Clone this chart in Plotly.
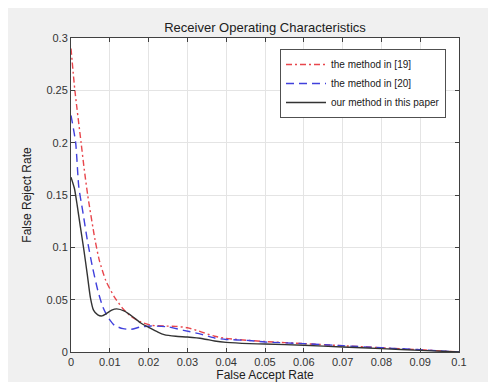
import plotly.graph_objects as go

# ---- data ----
x_m19 = [0.0, 0.001, 0.0026, 0.0034, 0.0043, 0.0062, 0.0073, 0.009, 0.0112, 0.0134, 0.0155,
         0.018, 0.0207, 0.024, 0.027, 0.030, 0.033, 0.037, 0.040, 0.046, 0.050, 0.060,
         0.070, 0.080, 0.090, 0.100]
y_m19 = [0.290, 0.250, 0.200, 0.175, 0.150, 0.107, 0.0876, 0.068, 0.0525, 0.0414, 0.034,
         0.0287, 0.0255, 0.0248, 0.0245, 0.0232, 0.020, 0.015, 0.013, 0.011, 0.0100, 0.008,
         0.006, 0.004, 0.0022, 0.0]

x_m20 = [0.0, 0.0012, 0.002, 0.003, 0.0043, 0.0056, 0.0069, 0.0082, 0.0095, 0.0112, 0.0134,
         0.0155, 0.018, 0.0207, 0.025, 0.029, 0.033, 0.037, 0.040, 0.046, 0.050, 0.060,
         0.070, 0.080, 0.090, 0.100]
y_m20 = [0.226, 0.200, 0.158, 0.135, 0.105, 0.080, 0.059, 0.0430, 0.0334, 0.0255, 0.0223,
         0.0217, 0.024, 0.0248, 0.024, 0.0207, 0.0175, 0.0134, 0.012, 0.011, 0.0096, 0.008,
         0.006, 0.004, 0.0022, 0.0]

x_ours = [0.0, 0.0009, 0.0016, 0.0024, 0.0033, 0.0042, 0.005, 0.0058, 0.0069, 0.0080, 0.009,
          0.0105, 0.0118, 0.0138, 0.016, 0.018, 0.0203, 0.0224, 0.024, 0.027, 0.030, 0.034,
          0.037, 0.040, 0.046, 0.050, 0.060, 0.070, 0.080, 0.090, 0.100]
y_ours = [0.167, 0.156, 0.140, 0.120, 0.098, 0.074, 0.052, 0.040, 0.0355, 0.0345, 0.0365,
          0.0400, 0.0412, 0.039, 0.0334, 0.0277, 0.023, 0.019, 0.0166, 0.015, 0.0143, 0.0127,
          0.0105, 0.0092, 0.008, 0.0076, 0.0064, 0.0048, 0.0032, 0.0016, 0.0]

x_ticks = [0, 0.01, 0.02, 0.03, 0.04, 0.05, 0.06, 0.07, 0.08, 0.09, 0.1]
x_tick_labels = ["0", "0.01", "0.02", "0.03", "0.04", "0.05", "0.06", "0.07", "0.08", "0.09", "0.1"]
y_ticks = [0, 0.05, 0.1, 0.15, 0.2, 0.25, 0.3]
y_tick_labels = ["0", "0.05", "0.1", "0.15", "0.2", "0.25", "0.3"]

names = ["the method in [19]", "the method in [20]", "our method in this paper"]

FONT = "Liberation Sans, Arial, sans-serif"
W, H = 496, 382
L, T = 63, 30
PW, PH = 388, 314
R = W - L - PW
B = H - T - PH

fig = go.Figure()
fig.add_trace(go.Scatter(x=x_m19, y=y_m19, mode="lines", name=names[0],
                         line=dict(color="#e8464c", width=1.4, dash="6px,3px,2px,3px",
                                   shape="spline", smoothing=0.6)))
fig.add_trace(go.Scatter(x=x_m20, y=y_m20, mode="lines", name=names[1],
                         line=dict(color="#4040dc", width=1.4, dash="8px,5px",
                                   shape="spline", smoothing=0.6)))
fig.add_trace(go.Scatter(x=x_ours, y=y_ours, mode="lines", name=names[2],
                         line=dict(color="#333333", width=1.4,
                                   shape="spline", smoothing=0.6)))


def px(x):
    # figure pixel -> paper x
    return (x - L) / PW


def py(y):
    # figure pixel -> paper y
    return (T + PH - y) / PH


axis_common = dict(showline=True, linecolor="#404040", linewidth=1, mirror="ticks",
                   ticks="inside", ticklen=4, tickcolor="#404040", showgrid=True,
                   gridcolor="#e4e4e4", gridwidth=1, zeroline=False,
                   tickfont=dict(family=FONT, size=11, color="#333333"))

fig.update_layout(
    width=W, height=H,
    margin=dict(l=L, r=R, t=T, b=B, autoexpand=False),
    paper_bgcolor="#f0f0f0", plot_bgcolor="white",
    title=dict(text="Receiver Operating Characteristics", x=(L + PW / 2) / W,
               xref="container", xanchor="center", y=1 - 19 / H, yref="container",
               yanchor="middle",
               font=dict(family=FONT, size=13, color="#202020")),
    xaxis=dict(range=[0, 0.1], tickvals=x_ticks, ticktext=x_tick_labels,
               title=dict(text="False Accept Rate",
                          font=dict(family=FONT, size=12, color="#202020"), standoff=2),
               **axis_common),
    yaxis=dict(range=[0, 0.3], tickvals=y_ticks, ticktext=y_tick_labels,
               title=dict(text="False Reject Rate",
                          font=dict(family=FONT, size=12, color="#202020"), standoff=12),
               **axis_common),
    legend=dict(x=px(438), y=py(41), xanchor="right", yanchor="top",
                bgcolor="white", bordercolor="#505050", borderwidth=1,
                font=dict(family=FONT, size=10, color="#202020"),
                tracegroupgap=0, itemwidth=40),
    showlegend=True,
)

fig.write_html("out.html")
